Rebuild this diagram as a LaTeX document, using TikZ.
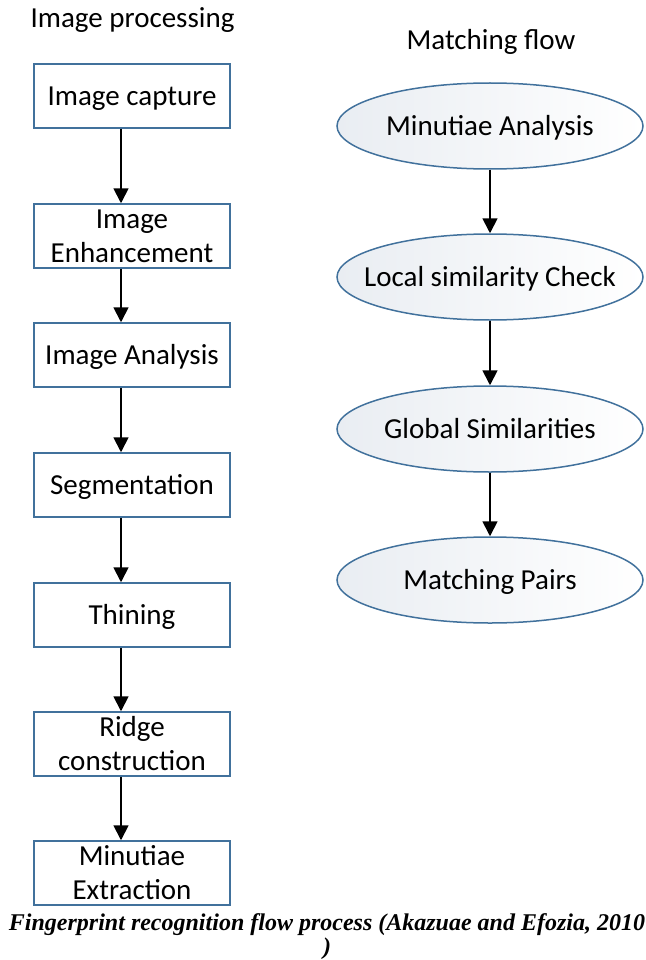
\documentclass[tikz,border=0pt]{standalone}
\usepackage{fontspec}
\setmainfont{Carlito}
\newfontfamily\captionfont{Liberation Serif}
\usetikzlibrary{arrows.meta,shapes.geometric}
\definecolor{edgeblue}{HTML}{41719C}
\definecolor{fillgrey}{HTML}{E9EDF2}
\tikzset{
  stagebox/.style={draw=edgeblue, line width=1.5pt, fill=white,
    minimum width=196pt, minimum height=64pt, inner sep=0pt,
    align=center, font=\fontsize{29}{34}\selectfont},
  oneline/.style={text height=19pt, text depth=0pt},
  flowoval/.style={ellipse, draw=edgeblue, line width=1.5pt,
    left color=fillgrey, right color=white,
    minimum width=306pt, minimum height=86pt,
    inner xsep=-60pt, inner ysep=0pt, oneline,
    font=\fontsize{29}{34}\selectfont},
  heading/.style={anchor=base, inner sep=0pt, font=\fontsize{29}{34}\selectfont},
  link/.style={line width=1.8pt, -{Triangle[width=15pt,length=15pt]}},
  caption/.style={anchor=base, inner sep=0pt,
    font=\captionfont\bfseries\itshape\fontsize{24}{28}\selectfont}
}
\begin{document}
\begin{tikzpicture}[x=1pt,y=-1pt]
\useasboundingbox (0,0) rectangle (645,960);

% left column: image processing stages
\node[heading] (t1) at (132.5,28) {Image processing};
\node[stagebox,oneline] (b1) at (132,96) {Image capture};
\node[stagebox] (b2) at (132,236) {Image\\Enhancement};
\node[stagebox,oneline] (b3) at (132,355) {Image Analysis};
\node[stagebox,oneline] (b4) at (132,485) {Segmentation};
\node[stagebox,oneline] (b5) at (132,615) {Thining};
\node[stagebox] (b6) at (132,744) {Ridge\\construction};
\node[stagebox] (b7) at (132,873) {Minutiae\\Extraction};

\foreach \a/\b in {b1/b2,b2/b3,b3/b4,b4/b5,b5/b6,b6/b7}
  \draw[link] ([xshift=-11pt]\a.south) -- ([xshift=-11pt]\b.north);

% right column: matching flow
\node[heading] (t2) at (491,50) {Matching flow};
\node[flowoval] (e1) at (490,126) {Minutiae Analysis};
\node[flowoval] (e2) at (490,277) {Local similarity Check};
\node[flowoval] (e3) at (490,429) {Global Similarities};
\node[flowoval] (e4) at (490,580) {Matching Pairs};

\foreach \a/\b in {e1/e2,e2/e3,e3/e4}
  \draw[link] (\a) -- (\b);

% caption, set as two centred lines
\node[caption] (c1) at (327,930) {Fingerprint recognition flow process (Akazuae and Efozia, 2010};
\node[caption] (c2) at (327,954) {)};
\end{tikzpicture}
\end{document}
